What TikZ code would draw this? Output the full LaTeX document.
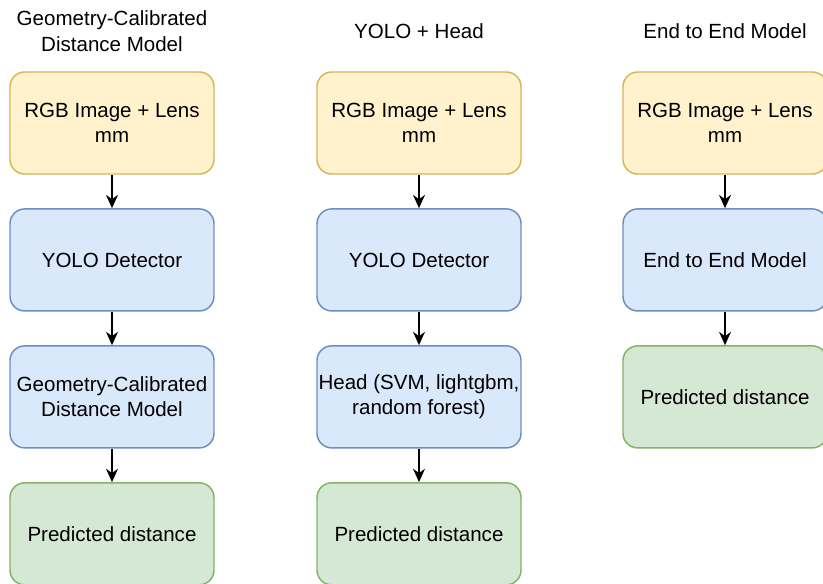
\documentclass[tikz,border=0pt]{standalone}
\usepackage{fontspec}
\setmainfont{Liberation Sans}
\usetikzlibrary{positioning,arrows.meta}

\definecolor{inFill}{HTML}{FFF2CC}
\definecolor{inLine}{HTML}{D6B656}
\definecolor{modFill}{HTML}{DAE8FC}
\definecolor{modLine}{HTML}{6C8EBF}
\definecolor{outFill}{HTML}{D5E8D4}
\definecolor{outLine}{HTML}{82B366}

\begin{document}
\begin{tikzpicture}[x=0.75pt, y=-0.75pt, node distance=25.1pt,
  every node/.style={font=\fontsize{15.4}{19}\selectfont},
  box/.style={rounded corners=11pt, line width=1.1pt, minimum width=153pt,
    minimum height=76.5pt, inner xsep=1pt, align=center},
  inbox/.style={box, fill=inFill, draw=inLine},
  modbox/.style={box, fill=modFill, draw=modLine},
  outbox/.style={box, fill=outFill, draw=outLine},
  title/.style={align=center},
  flow/.style={-{Stealth[length=10pt,width=9pt]}, line width=1.1pt}]
  \useasboundingbox (0,0) rectangle (823,583);

  % geometry-calibrated pipeline
  \node[title] (title1) at (112,31) {Geometry-Calibrated\\Distance Model};
  \node[inbox] (in1) at (112,123) {RGB Image + Lens\\mm};
  \node[modbox, below=of in1] (yolo1) {YOLO Detector};
  \node[modbox, below=of yolo1] (geo1) {Geometry-Calibrated\\Distance Model};
  \node[outbox, below=of geo1] (out1) {Predicted distance};

  % yolo + head pipeline
  \node[title] (title2) at (419,31) {YOLO + Head};
  \node[inbox] (in2) at (419,123) {RGB Image + Lens\\mm};
  \node[modbox, below=of in2] (yolo2) {YOLO Detector};
  \node[modbox, below=of yolo2] (head2) {Head (SVM, lightgbm,\\random forest)};
  \node[outbox, below=of head2] (out2) {Predicted distance};

  % end to end pipeline
  \node[title] (title3) at (725,31) {End to End Model};
  \node[inbox] (in3) at (725,123) {RGB Image + Lens\\mm};
  \node[modbox, below=of in3] (e2e3) {End to End Model};
  \node[outbox, below=of e2e3] (out3) {Predicted distance};

  \draw[flow] (in1) -- (yolo1);
  \draw[flow] (yolo1) -- (geo1);
  \draw[flow] (geo1) -- (out1);
  \draw[flow] (in2) -- (yolo2);
  \draw[flow] (yolo2) -- (head2);
  \draw[flow] (head2) -- (out2);
  \draw[flow] (in3) -- (e2e3);
  \draw[flow] (e2e3) -- (out3);
\end{tikzpicture}
\end{document}
